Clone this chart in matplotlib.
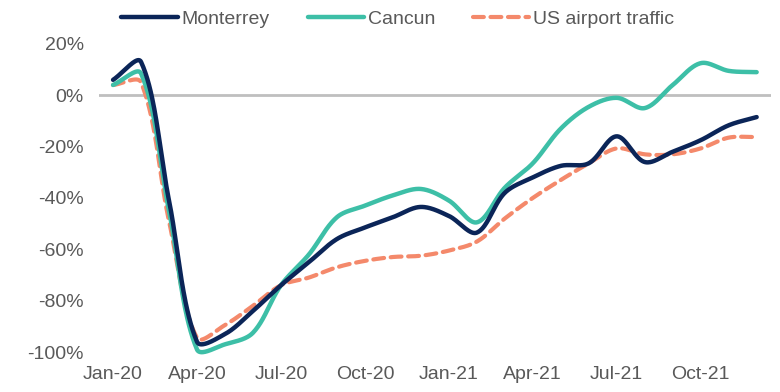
import numpy as np
import matplotlib
matplotlib.use("Agg")
import matplotlib.pyplot as plt
from matplotlib.ticker import FuncFormatter

months = ["Jan-20", "Feb-20", "Mar-20", "Apr-20", "May-20", "Jun-20", "Jul-20", "Aug-20",
          "Sep-20", "Oct-20", "Nov-20", "Dec-20", "Jan-21", "Feb-21", "Mar-21", "Apr-21",
          "May-21", "Jun-21", "Jul-21", "Aug-21", "Sep-21", "Oct-21", "Nov-21", "Dec-21"]

monterrey = [6, 13, -41, -96, -93, -84, -74, -65, -56, -51.5, -47.5, -43.5,
             -47, -53.5, -38, -32, -27.5, -26.5, -16, -26, -22, -17.5, -11.7, -8.5]
cancun = [4, 8.5, -45, -99, -97, -92.5, -74, -62, -47.5, -43, -39, -36.5,
          -41, -49.5, -36, -26.5, -13, -4.5, -1, -5, 4, 12.5, 9.5, 9]
us_traffic = [4, 5, -49, -94.5, -89.5, -82, -74, -71, -67, -64.5, -63, -62.5,
              -60.5, -57, -48, -40, -33, -26.5, -20.7, -23, -23, -20.7, -16.5, -16.3]

tick_labels = ["Jan-20", "Apr-20", "Jul-20", "Oct-20", "Jan-21", "Apr-21", "Jul-21", "Oct-21"]


def smooth(xs, ys, sx=28.0, sy=2.56, n=40):
    """Excel-like smoothed line: Bezier with control points scaled by segment lengths
    (computed in approximate screen space, sx/sy = pixels per data unit)."""
    P = np.column_stack([np.asarray(xs, float) * sx, np.asarray(ys, float) * sy])
    m = len(P)
    cout = np.zeros_like(P)
    cin = np.zeros_like(P)
    for i in range(m):
        p0 = P[i - 1] if i > 0 else P[i]
        p2 = P[i + 1] if i + 1 < m else P[i]
        d = p2 - p0
        l0 = np.linalg.norm(P[i] - p0)
        l2 = np.linalg.norm(p2 - P[i])
        tot = l0 + l2 if (l0 + l2) > 0 else 1.0
        cout[i] = P[i] + d * (1 / 3) * l2 / tot
        cin[i] = P[i] - d * (1 / 3) * l0 / tot
    out = [P[0]]
    t = np.linspace(0, 1, n)[1:, None]
    for i in range(m - 1):
        p1, c1, c2, p2 = P[i], cout[i], cin[i + 1], P[i + 1]
        seg = ((1 - t) ** 3) * p1 + 3 * ((1 - t) ** 2) * t * c1 + 3 * (1 - t) * t ** 2 * c2 + t ** 3 * p2
        out.extend(seg)
    out = np.array(out)
    return out[:, 0] / sx, out[:, 1] / sy


plt.rcParams['font.family'] = ['Liberation Sans', 'DejaVu Sans']

fig = plt.figure(figsize=(7.8, 3.92), dpi=100)
ax = fig.add_axes([0.127, 0.102, 0.861, 0.786])

x = np.arange(len(months))
text_color = "#595959"

ax.axhline(0, color="#bfbfbf", lw=2, zorder=1)

xs, ys = smooth(x, us_traffic)
ax.plot(xs, ys, color="#f4896b", lw=3, linestyle=(0, (2.6, 1.6)), dash_capstyle="round",
        label="US airport traffic", zorder=2, clip_on=False)
xs, ys = smooth(x, cancun)
ax.plot(xs, ys, color="#3dbfa7", lw=3.2, label="Cancun", zorder=3, solid_capstyle="round", clip_on=False)
xs, ys = smooth(x, monterrey)
ax.plot(xs, ys, color="#0b2558", lw=3.2, label="Monterrey", zorder=4, solid_capstyle="round", clip_on=False)

ax.set_xlim(-0.5, 23.5)
ax.set_ylim(-100, 20)
ax.set_yticks(np.arange(-100, 21, 20))
ax.yaxis.set_major_formatter(FuncFormatter(lambda v, p: f"{int(round(v))}%"))
ax.set_xticks([months.index(m) for m in tick_labels])
ax.set_xticklabels(tick_labels)

for s in ax.spines.values():
    s.set_visible(False)
ax.tick_params(axis="both", length=0, labelsize=14, colors=text_color)
ax.tick_params(axis="y", pad=11)
ax.tick_params(axis="x", pad=10)

handles, labels = ax.get_legend_handles_labels()
order = [2, 1, 0]
leg = fig.legend([handles[i] for i in order], [labels[i] for i in order],
                 loc="upper center", bbox_to_anchor=(0.51, 1.018), ncol=3, frameon=False,
                 fontsize=14, handlelength=2.9, handletextpad=0.2, columnspacing=1.95)
for t in leg.get_texts():
    t.set_color(text_color)

fig.savefig("out.png", dpi=100)
